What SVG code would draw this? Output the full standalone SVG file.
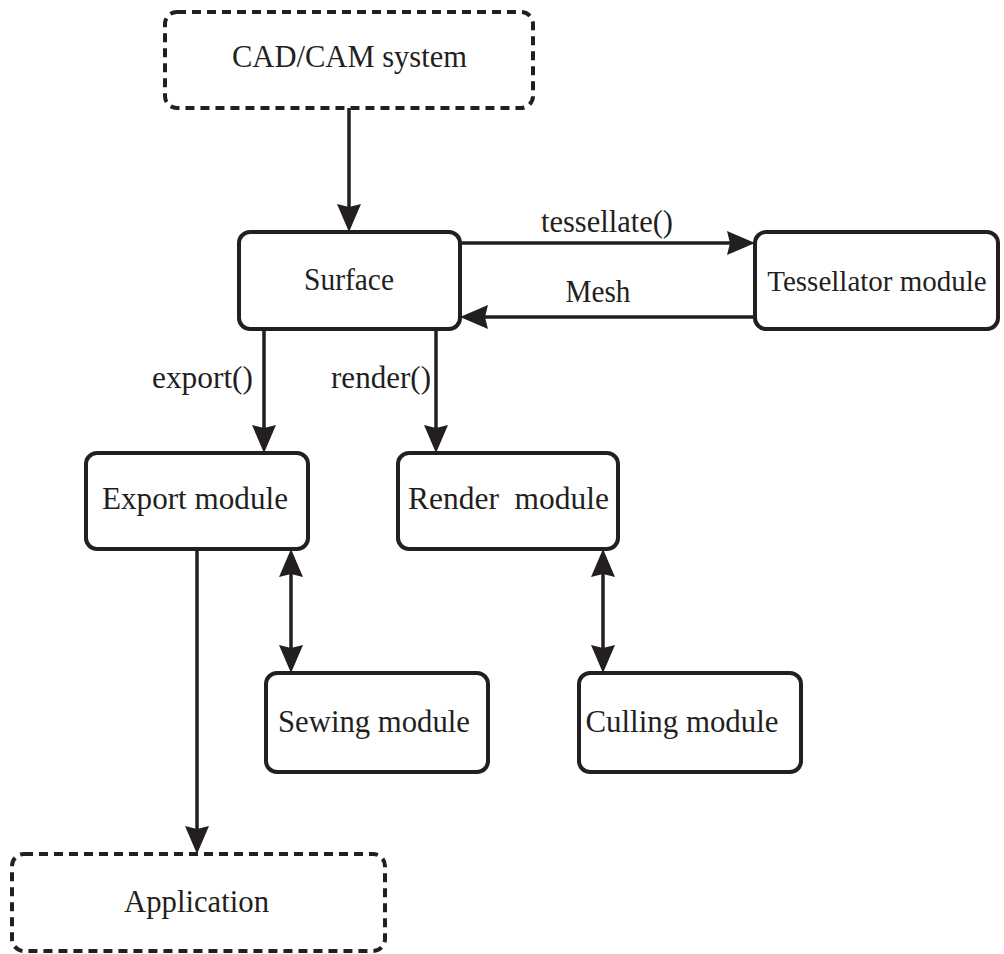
<svg xmlns="http://www.w3.org/2000/svg" width="1004" height="954" viewBox="0 0 1004 954">
<style>
  .box { fill: #ffffff; stroke: #231f20; stroke-width: 4; }
  .dash { stroke-dasharray: 9 6; }
  .t { font-family: "Liberation Serif", "Times New Roman", serif; font-size: 32px; fill: #231f20; text-anchor: middle; white-space: pre; }
  .c { stroke: #231f20; stroke-width: 3.5; fill: none; }
</style>
<defs>
  <marker id="ah" markerUnits="userSpaceOnUse" markerWidth="28" markerHeight="24" refX="20" refY="12" orient="auto-start-reverse" viewBox="0 0 28 24">
    <path d="M0,0 L28,12 L0,24 L3,12 Z" fill="#231f20"/>
  </marker>
</defs>
<rect width="1004" height="954" fill="#ffffff"/>
<g id="connectors">
  <line class="c" x1="349" y1="108" x2="349" y2="224" marker-end="url(#ah)"/>
  <line class="c" x1="460" y1="243" x2="747" y2="243" marker-end="url(#ah)"/>
  <line class="c" x1="755" y1="317" x2="468" y2="317" marker-end="url(#ah)"/>
  <line class="c" x1="264" y1="329" x2="264" y2="445" marker-end="url(#ah)"/>
  <line class="c" x1="436" y1="329" x2="436" y2="445" marker-end="url(#ah)"/>
  <line class="c" x1="291" y1="557" x2="291" y2="665" marker-start="url(#ah)" marker-end="url(#ah)"/>
  <line class="c" x1="603" y1="557" x2="603" y2="665" marker-start="url(#ah)" marker-end="url(#ah)"/>
  <line class="c" x1="197" y1="549" x2="197" y2="846" stroke-width="3" marker-end="url(#ah)"/>
  <text class="t" x="607" y="232" textLength="132" lengthAdjust="spacingAndGlyphs">tessellate()</text>
  <text class="t" x="598" y="302" textLength="65" lengthAdjust="spacingAndGlyphs">Mesh</text>
  <text class="t" x="202.5" y="388" textLength="101" lengthAdjust="spacingAndGlyphs">export()</text>
  <text class="t" x="381" y="388" textLength="100" lengthAdjust="spacingAndGlyphs">render()</text>
</g>
<g id="cad">
  <rect class="box dash" x="165" y="12" width="368" height="96" rx="12"/>
  <text class="t" x="349.5" y="67" textLength="235" lengthAdjust="spacingAndGlyphs">CAD/CAM system</text>
</g>
<g id="surface">
  <rect class="box" x="239" y="232" width="221" height="97" rx="11"/>
  <text class="t" x="349" y="290" textLength="90" lengthAdjust="spacingAndGlyphs">Surface</text>
</g>
<g id="tessellator">
  <rect class="box" x="755" y="232" width="243" height="97" rx="11"/>
  <text class="t" x="877" y="291" style="font-size:29px">Tessellator module</text>
</g>
<g id="export">
  <rect class="box" x="86" y="453" width="222" height="96" rx="11"/>
  <text class="t" x="195" y="509" textLength="186" lengthAdjust="spacingAndGlyphs">Export module</text>
</g>
<g id="render">
  <rect class="box" x="398" y="453" width="220" height="96" rx="11"/>
  <text class="t" x="508.5" y="509" textLength="201" lengthAdjust="spacingAndGlyphs">Render  module</text>
</g>
<g id="sewing">
  <rect class="box" x="266" y="673" width="222" height="99" rx="11"/>
  <text class="t" x="374" y="732" textLength="192" lengthAdjust="spacingAndGlyphs">Sewing module</text>
</g>
<g id="culling">
  <rect class="box" x="579" y="673" width="222" height="99" rx="11"/>
  <text class="t" x="682" y="732" textLength="193" lengthAdjust="spacingAndGlyphs">Culling module</text>
</g>
<g id="application">
  <rect class="box dash" x="12" y="854" width="373" height="97" rx="12"/>
  <text class="t" x="196.5" y="912" textLength="145" lengthAdjust="spacingAndGlyphs">Application</text>
</g>
</svg>
